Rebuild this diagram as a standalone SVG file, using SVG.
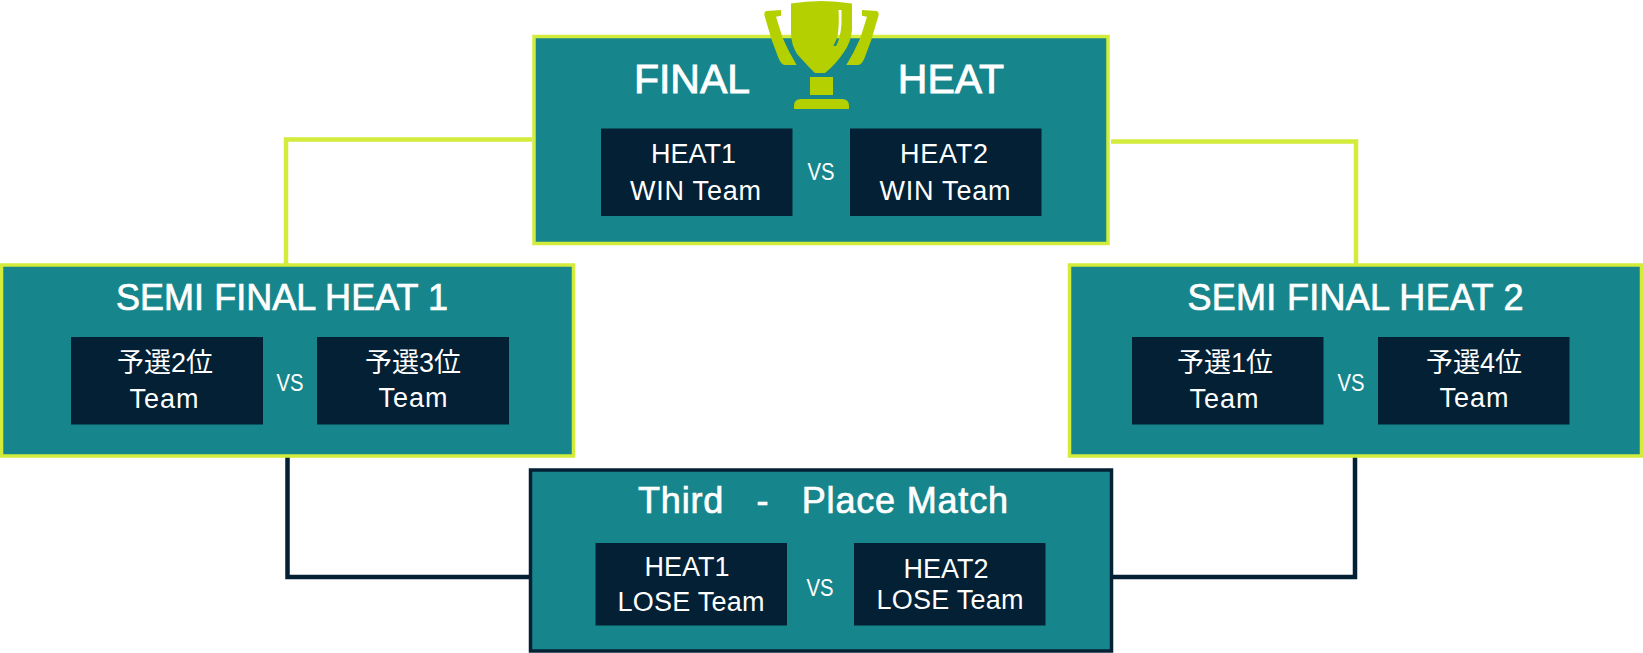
<svg xmlns="http://www.w3.org/2000/svg" width="1643" height="653" viewBox="0 0 1643 653">
<style>
text{font-family:"Liberation Sans","Noto Sans CJK JP",sans-serif;fill:#fff;text-anchor:middle}
.card{fill:#17868c;stroke-width:3.500}
.lime{stroke:#d3eb3b}
.navy{stroke:#032035}
.slot{fill:#032035}
.title{font-size:36px;stroke:#fff;stroke-width:.7}
.big{font-size:41px;stroke:#fff;stroke-width:.9}
.t{font-size:27px}
.vs{font-size:24px}
.conn{fill:none;stroke-width:4.500}
.cup{fill:#b5d000}
</style>
<g id="connectors">
<path class="conn lime" d="M532 139.500H286V264"/>
<path class="conn lime" d="M1111 141.500H1356V264"/>
<path class="conn navy" d="M287.500 456V577H530"/>
<path class="conn navy" d="M1355 456V577H1112"/>
</g>
<g id="final-heat">
<rect class="card lime" x="534" y="36.500" width="574" height="207"/>
<path class="cup" d="M766 11L781 10V15.700L776 16.700L782.700 38L789.300 52L796.700 65H785Q781 65 778 56.700L771.700 40L764.300 15Q764 12 766 11ZM877 11L862 10V15.700L867 16.700L860.300 38L853.700 52L846.300 65H858Q862 65 865 56.700L871.300 40L878.700 15Q879 12 877 11Z"/>
<path class="cup" fill-rule="evenodd" d="M791 3.500Q821 -1.500 852 3.500V30Q851 42 844 52Q836 64 825 73H815L808 66L797 54Q791 44 791 33ZM838.500 10Q839.500 28 837 38L833.500 46L836 46Q840.500 38 841.500 24L841.500 10Z"/>
<rect class="cup" x="810" y="77" width="23" height="18"/>
<path class="cup" d="M794 109V106Q794 99 801 99H842Q849 99 849 106V109Z"/>
<text class="big" x="692" y="93">FINAL</text>
<text class="big" x="951" y="93">HEAT</text>
<rect class="slot" x="601" y="128.500" width="191.500" height="87.500"/>
<rect class="slot" x="850" y="128.500" width="191.500" height="87.500"/>
<text class="t" x="693.500" y="163">HEAT1</text>
<text class="t" x="695.500" y="200" textLength="131">WIN Team</text>
<text class="t" x="944" y="163" textLength="88">HEAT2</text>
<text class="t" x="945" y="200" textLength="131">WIN Team</text>
<text class="vs" x="821" y="180" textLength="27" lengthAdjust="spacingAndGlyphs">VS</text>
</g>
<g id="semi-final-1">
<rect class="card lime" x="1.500" y="265" width="572" height="191"/>
<text class="title" x="282" y="310" textLength="332">SEMI FINAL HEAT 1</text>
<rect class="slot" x="71" y="337" width="192" height="87.500"/>
<rect class="slot" x="317" y="337" width="192" height="87.500"/>
<text class="t" x="165" y="372">予選2位</text>
<text class="t" x="164" y="408" textLength="69">Team</text>
<text class="t" x="413" y="371.500">予選3位</text>
<text class="t" x="413" y="407" textLength="69">Team</text>
<text class="vs" x="290" y="391" textLength="27" lengthAdjust="spacingAndGlyphs">VS</text>
</g>
<g id="semi-final-2">
<rect class="card lime" x="1069.500" y="265" width="572" height="191"/>
<text class="title" x="1355.500" y="310" textLength="336">SEMI FINAL HEAT 2</text>
<rect class="slot" x="1132" y="337" width="191.500" height="87.500"/>
<rect class="slot" x="1378" y="337" width="191.500" height="87.500"/>
<text class="t" x="1225" y="372">予選1位</text>
<text class="t" x="1224" y="408" textLength="69">Team</text>
<text class="t" x="1474" y="371.500">予選4位</text>
<text class="t" x="1474" y="407" textLength="69">Team</text>
<text class="vs" x="1351" y="391" textLength="27" lengthAdjust="spacingAndGlyphs">VS</text>
</g>
<g id="third-place">
<rect class="card navy" x="530.500" y="470" width="581" height="181"/>
<text class="title" x="823" y="513" xml:space="preserve" textLength="370">Third   -   Place Match</text>
<rect class="slot" x="595.500" y="543" width="191.500" height="82.500"/>
<rect class="slot" x="854" y="543" width="191.500" height="82.500"/>
<text class="t" x="687" y="576">HEAT1</text>
<text class="t" x="691" y="611" textLength="147">LOSE Team</text>
<text class="t" x="946" y="578">HEAT2</text>
<text class="t" x="950" y="609" textLength="147">LOSE Team</text>
<text class="vs" x="820" y="596" textLength="27" lengthAdjust="spacingAndGlyphs">VS</text>
</g>
</svg>
